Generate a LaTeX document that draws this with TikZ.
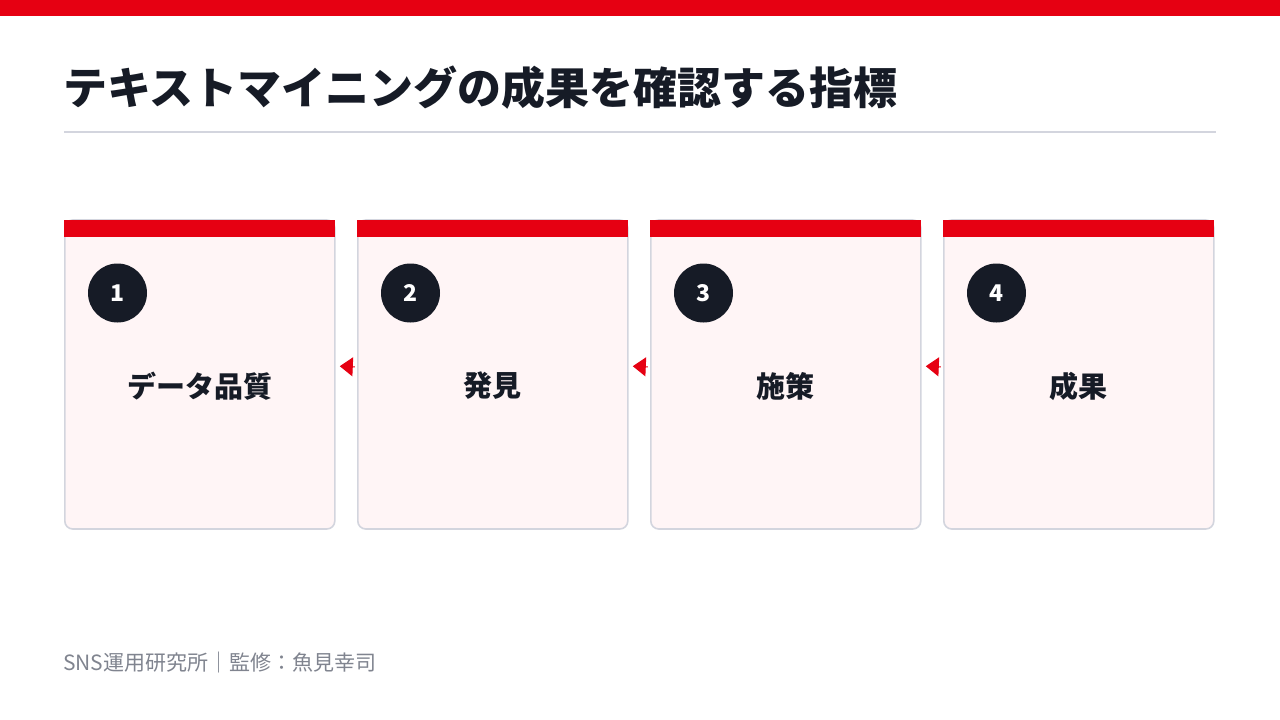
\documentclass[tikz,border=0pt]{standalone}
\usepackage{fontspec}
\setmainfont{Noto Sans CJK JP}
\usetikzlibrary{arrows.meta}
\definecolor{brandred}{HTML}{E60012}
\definecolor{inkdark}{HTML}{161B26}
\definecolor{cardline}{HTML}{D3D5DE}
\definecolor{cardfill}{HTML}{FFF5F6}
\definecolor{footgray}{HTML}{80848F}
\tikzset{
  cardbox/.style={draw=cardline, fill=cardfill, line width=1.6pt, rounded corners=8pt,
    minimum width=270pt, minimum height=309pt, inner sep=0pt, outer sep=0pt, anchor=north west},
  cardbar/.style={fill=brandred},
  numdot/.style={circle, fill=inkdark, minimum size=59pt, inner sep=0pt, text=white,
    font=\fontsize{23}{25}\selectfont\bfseries},
  cardlabel/.style={text=inkdark, font=\fontsize{29}{32}\selectfont\bfseries, inner sep=0pt},
  flowarrow/.style={draw=brandred, line width=1pt, -{Triangle[length=13pt,width=19pt]},
    shorten <=3pt, shorten >=5pt},
}
\begin{document}
\begin{tikzpicture}[x=1pt,y=-1pt]
\useasboundingbox (0,0) rectangle (1280,720);
\fill[white] (0,0) rectangle (1280,720);
% top band
\fill[brandred] (0,0) rectangle (1280,16);
% title
\node[anchor=west, inner sep=0pt, text=inkdark, font=\fontsize{44}{48}\selectfont\bfseries] (title) at (63,88) {テキストマイニングの成果を確認する指標};
\coordinate (ruleL) at (64,132);
\coordinate (ruleR) at (1216,132);
\draw[cardline, line width=2pt] (ruleL) -- (ruleR);
% cards
\foreach \i/\x/\lab in {1/64/データ品質, 2/357/発見, 3/650/施策, 4/943/成果}{
  \node[cardbox] (card\i) at (\x+0.8,220) {};
  \fill[cardbar] (\x,220) rectangle (\x+271,237);
  \node[numdot] (num\i) at (\x+53.5,293) {\i};
  \node[cardlabel] (lab\i) at (\x+135.5,386) {\lab};
}
% arrows
\foreach \a/\b in {2/1, 3/2, 4/3}{
  \draw[flowarrow] ([yshift=-1pt]card\a.west |- 0,366) -- ([yshift=0pt]card\b.east |- 0,366);
}
% footer
\node[anchor=west, inner sep=0pt, text=footgray, font=\fontsize{21}{24}\selectfont] (footer) at (63,663) {SNS運用研究所｜監修：魚見幸司};
\end{tikzpicture}
\end{document}
